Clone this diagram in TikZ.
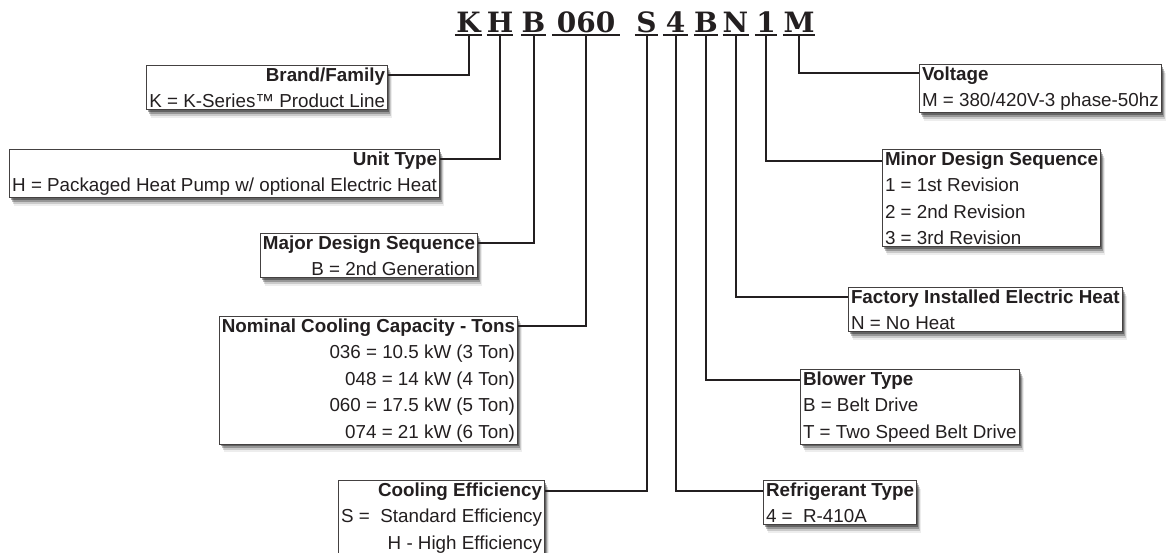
\documentclass[tikz,border=0pt]{standalone}
\usepackage{fontspec}
\setmainfont{Liberation Sans}
\newfontfamily\codefont{DejaVu Serif}
\usetikzlibrary{shadows}
\definecolor{ink}{HTML}{231F20}

\begin{document}
\begin{tikzpicture}[
    x=1pt, y=-1pt,
    code/.style={font=\codefont\bfseries\fontsize{28}{28}\selectfont, text=ink, inner sep=0pt, anchor=base},
    uline/.style={line width=2.6pt, ink},
    conn/.style={line width=2pt, ink},
    infobox/.style={draw=ink!85, line width=1pt, fill=white, text=ink,
        inner xsep=2.5pt, inner ysep=2pt, font=\fontsize{18.8}{26.5}\selectfont,
        drop shadow={shadow xshift=1.5pt, shadow yshift=-2pt, fill=black, opacity=.35},
        drop shadow={shadow xshift=2.5pt, shadow yshift=-4pt, fill=black, opacity=.25},
        drop shadow={shadow xshift=3.5pt, shadow yshift=-6pt, fill=black, opacity=.15},
        drop shadow={shadow xshift=4.5pt, shadow yshift=-8pt, fill=black, opacity=.07}},
    lbox/.style={infobox, align=right},
    rbox/.style={infobox, align=left}
]
\useasboundingbox (0,0) rectangle (1172,552);

% --- Model code letters (top) ---
\node[code, minimum width=27pt] (cK) at (468.5,32) {K};
\node[code, minimum width=24pt] (cH) at (500,32) {H};
\node[code, minimum width=23pt] (cB) at (533.5,32) {B};
\node[code, minimum width=68pt] (cCap) at (586,32) {060};
\node[code, minimum width=23pt] (cS) at (646.5,32) {S};
\node[code, minimum width=25pt] (cRef) at (675.5,32) {4};
\node[code, minimum width=22pt] (cBlw) at (706,32) {B};
\node[code, minimum width=25pt] (cN) at (735.5,32) {N};
\node[code, minimum width=22pt] (cMin) at (766,32) {1};
\node[code, minimum width=32pt] (cM) at (799,32) {M};

\draw[uline] ([yshift=-3pt]cK.base west) -- ([yshift=-3pt]cK.base east);
\draw[uline] ([yshift=-3pt]cH.base west) -- ([yshift=-3pt]cH.base east);
\draw[uline] ([yshift=-3pt]cB.base west) -- ([yshift=-3pt]cB.base east);
\draw[uline] ([yshift=-3pt]cCap.base west) -- ([yshift=-3pt]cCap.base east);
\draw[uline] ([yshift=-3pt]cS.base west) -- ([yshift=-3pt]cS.base east);
\draw[uline] ([yshift=-3pt]cRef.base west) -- ([yshift=-3pt]cRef.base east);
\draw[uline] ([yshift=-3pt]cBlw.base west) -- ([yshift=-3pt]cBlw.base east);
\draw[uline] ([yshift=-3pt]cN.base west) -- ([yshift=-3pt]cN.base east);
\draw[uline] ([yshift=-3pt]cMin.base west) -- ([yshift=-3pt]cMin.base east);
\draw[uline] ([yshift=-3pt]cM.base west) -- ([yshift=-3pt]cM.base east);

% --- Left column boxes ---
\node[lbox, anchor=north east] (brand) at (388,65)
    {\textbf{Brand/Family}\\K = K-Series™ Product Line};

\node[lbox, anchor=north east] (unit) at (440,149)
    {\textbf{Unit Type}\\H = Packaged Heat Pump w/ optional Electric Heat};

\node[lbox, anchor=north east] (major) at (478,233)
    {\textbf{Major Design Sequence}\\B = 2nd Generation};

\node[lbox, anchor=north east] (capacity) at (518,316)
    {\textbf{Nominal Cooling Capacity - Tons}\\036 = 10.5 kW (3 Ton)\\048 = 14 kW (4 Ton)\\060 = 17.5 kW (5 Ton)\\074 = 21 kW (6 Ton)};

\node[lbox, anchor=north east] (effic) at (545,480)
    {\textbf{Cooling Efficiency}\\S = \ Standard Efficiency\\H - High Efficiency};

% --- Right column boxes ---
\node[rbox, anchor=north west] (voltage) at (919,64)
    {\textbf{Voltage}\\M = 380/420V-3 phase-50hz};

\node[rbox, anchor=north west] (minor) at (882,149)
    {\textbf{Minor Design Sequence}\\1 = 1st Revision\\2 = 2nd Revision\\3 = 3rd Revision};

\node[rbox, anchor=north west] (heat) at (848,287)
    {\textbf{Factory Installed Electric Heat}\\N = No Heat};

\node[rbox, anchor=north west] (blower) at (800,369)
    {\textbf{Blower Type}\\B = Belt Drive\\T = Two Speed Belt Drive};

\node[rbox, anchor=north west] (refrig) at (763,480)
    {\textbf{Refrigerant Type}\\4 = \ R-410A};

% === LINES ===
\draw[conn] ([yshift=-3pt]cK.base) |- ([yshift=-10pt]brand.north east);
\draw[conn] ([yshift=-3pt]cH.base) |- ([yshift=-10pt]unit.north east);
\draw[conn] ([yshift=-3pt]cB.base) |- ([yshift=-10pt]major.north east);
\draw[conn] ([yshift=-3pt]cCap.base) |- ([yshift=-10pt]capacity.north east);
\draw[conn] ([yshift=-3pt]cS.base) |- ([yshift=-11pt]effic.north east);

\draw[conn] ([yshift=-3pt]cM.base) |- ([yshift=-9pt]voltage.north west);
\draw[conn] ([yshift=-3pt]cMin.base) |- ([yshift=-12pt]minor.north west);
\draw[conn] ([yshift=-3pt]cN.base) |- ([yshift=-10pt]heat.north west);
\draw[conn] ([yshift=-3pt]cBlw.base) |- ([yshift=-11pt]blower.north west);
\draw[conn] ([yshift=-3pt]cRef.base) |- ([yshift=-11pt]refrig.north west);

\end{tikzpicture}
\end{document}
